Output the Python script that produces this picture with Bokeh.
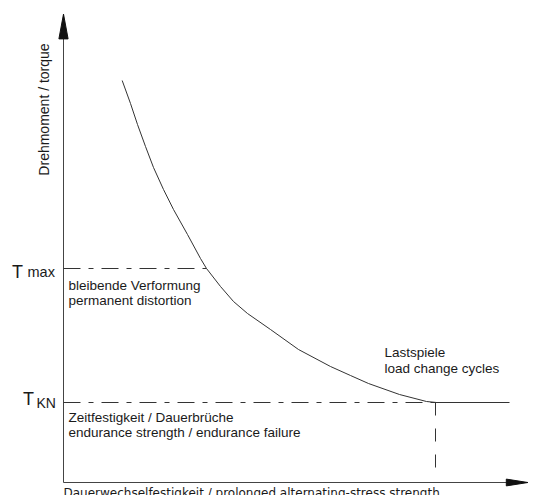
from bokeh.plotting import figure
from bokeh.models import Range1d, ColumnDataSource
from bokeh.core.properties import value
from bokeh.embed import file_html
from bokeh.resources import INLINE
import math

# ---- data (abstract units: load cycles / torque) ----
curve_cycles = [14.67, 16.75, 18.5, 20.5, 22.5, 25.0, 27.5, 31.0, 34.25, 35.75,
                39.25, 42.5, 46.0, 51.75, 58.75, 66.75, 71.75, 76.25, 84.0,
                90.75, 93.25]
curve_torque = [100.5, 94.75, 89.5, 84.0, 78.75, 73.25, 68.25, 62.0, 56.0, 53.5,
                49.0, 45.25, 42.25, 38.25, 33.25, 29.0, 26.75, 24.75, 22.0,
                20.25, 20.0]
T_MAX = 53.5          # torque at which permanent distortion begins
T_KN = 20.0           # endurance limit torque
N_KN = 93.0           # knee point (load cycles)
N_END = 111.5         # end of the endurance line
X_AXIS_END = 116.1
Y_AXIS_END = 117.1

label_torque = "Drehmoment / torque"
label_cycles = "Dauerwechselfestigkeit / prolonged alternating-stress strength"
label_tmax = ["bleibende Verformung", "permanent distortion"]
label_tkn = ["Zeitfestigkeit / Dauerbrüche", "endurance strength / endurance failure"]
label_cyc = ["Lastspiele", "load change cycles"]

FONT = value("Liberation Sans")
LINE = "#333333"
TXT = "#1a1a1a"

p = figure(width=536, height=495, x_range=Range1d(-15.75, 118.25),
           y_range=Range1d(-3.25, 120.5), output_backend="svg",
           toolbar_location=None, x_axis_location=None, y_axis_location=None,
           min_border=0)
p.grid.visible = False
p.outline_line_color = None
p.background_fill_color = "white"
p.border_fill_color = "white"

# axes with arrow heads
p.line([0, 0], [0, Y_AXIS_END], line_color="#444444", line_width=1)
p.line([0, X_AXIS_END], [0, 0], line_color="#444444", line_width=1)
hy_len, hy_half = 6.2, 1.15
p.patch([-hy_half, 0, hy_half], [Y_AXIS_END - hy_len, Y_AXIS_END, Y_AXIS_END - hy_len],
        fill_color="#111111", line_color="#111111")
hx_len, hx_half = 5.4, 0.85
p.patch([X_AXIS_END - hx_len, X_AXIS_END, X_AXIS_END - hx_len], [-hx_half, 0, hx_half],
        fill_color="#111111", line_color="#111111")

# reference lines
p.line([0, curve_cycles[9]], [T_MAX, T_MAX], line_color=LINE, line_width=1,
       line_dash="17 8 5 8")
p.line([0, N_KN], [T_KN, T_KN], line_color=LINE, line_width=1, line_dash="17 8 5 8")
p.line([N_KN, N_END], [T_KN, T_KN], line_color=LINE, line_width=1)
p.line([N_KN, N_KN], [T_KN, 3.0], line_color=LINE, line_width=1, line_dash="13 13")

# S-N curve
src = ColumnDataSource(dict(x=curve_cycles, y=curve_torque))
p.line("x", "y", source=src, line_color=LINE, line_width=1)

def txt(x, y, s, size, angle=0.0, align="left", baseline="alphabetic", font=FONT):
    p.text(x=[x], y=[y], text=[s], text_font=font, text_font_size=f"{size}px",
           text_color=TXT, angle=angle, text_align=align, text_baseline=baseline)

txt(-4.875, 93.25, label_torque, 14, angle=math.pi / 2, align="center")
txt(0.0, -2.5, label_cycles, 12, font=value("DejaVu Sans"))
txt(1.25, 49.25, label_tmax[0], 13.5)
txt(1.25, 45.5, label_tmax[1], 13.5)
txt(1.25, 16.375, label_tkn[0], 13.5)
txt(1.25, 12.5, label_tkn[1], 13.5)
txt(80.25, 32.5, label_cyc[0], 13.5)
txt(80.25, 28.5, label_cyc[1], 13.5)

# T_max and T_KN labels
txt(-12.9, 52.75, "T", 18)
txt(-9.0, 52.75, "max", 14.5)
txt(-10.1, 20.9, "T", 18)
txt(-6.75, 20.0, "KN", 14)

open("out.html", "w").write(file_html(p, INLINE))
